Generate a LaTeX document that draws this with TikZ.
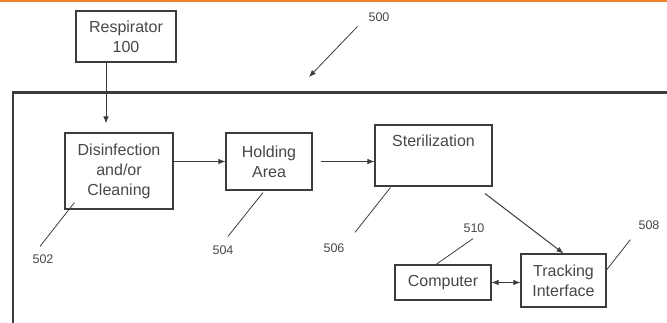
\documentclass[tikz,border=0pt]{standalone}
\usepackage{fontspec}
\setmainfont{Liberation Sans}
\usetikzlibrary{arrows.meta}
\definecolor{inkline}{HTML}{3C3C3C}
\definecolor{inktext}{HTML}{474747}
\definecolor{topbar}{HTML}{F0822E}
\newcommand{\boxfont}{\fontsize{16}{20}\selectfont}
\newcommand{\numfont}{\fontsize{12.5}{14}\selectfont}

\begin{document}
\begin{tikzpicture}[x=1pt,y=-1pt,
    blk/.style={draw=inkline, line width=1.1pt, text=inktext, align=center, inner sep=0pt, font=\boxfont},
    num/.style={text=inktext, inner sep=1pt, font=\numfont},
    arr/.style={draw=inkline, line width=1pt, -{Latex[length=7pt,width=5.5pt]}},
    dbl/.style={arr, {Latex[length=7pt,width=5.5pt]}-{Latex[length=7pt,width=5.5pt]}},
    lead/.style={draw=inkline, line width=0.8pt}]
    \useasboundingbox (0,0) rectangle (667,322);
    \clip (0,0) rectangle (667,322);
    \fill[topbar] (0,0) rectangle (667,2.2);
    \draw[inkline, line width=2.4pt] (13,92.5) rectangle (700,360);
    % boxes
    \node[blk, minimum width=100pt, minimum height=51pt] (resp)   at (126,36.5)  {Respirator\\100};
    \node[blk, minimum width=108pt, minimum height=76pt] (disinf) at (119,171)   {Disinfection\\and/or\\Cleaning};
    \node[blk, minimum width=86pt,  minimum height=57pt] (hold)   at (269,161.5) {Holding\\Area};
    \node[blk, minimum width=117pt, minimum height=61pt,
          label={[text=inktext, font=\boxfont, inner sep=0pt, anchor=north, yshift=-10pt]north:Sterilization}] (steril) at (433.5,155.5) {};
    \node[blk, minimum width=96pt,  minimum height=35pt] (comp)   at (443,282.5) {Computer};
    \node[blk, minimum width=85pt,  minimum height=53pt] (track)  at (563.5,280.5) {Tracking\\Interface};
    % reference numbers
    \node[num] (n500) at (379,17)  {500};
    \node[num] (n502) at (43,259)  {502};
    \node[num] (n504) at (223,250) {504};
    \node[num] (n506) at (334,248) {506};
    \node[num] (n510) at (474,228) {510};
    \node[num] (n508) at (649,225) {508};
    % flow
    \coordinate (drop) at ([xshift=-20pt]resp.south);
    \draw[arr, shorten >=9pt] (drop) -- (drop |- disinf.north);
    \draw[arr] (disinf.east |- hold.west) -- (hold.west);
    \draw[arr] ([xshift=8pt]hold.east) -- (hold.east -| steril.west);
    \draw[arr] ([shift={(51.5pt,-7pt)}]steril.south) -- (track.north);
    \draw[dbl] (comp.east) -- (comp.east -| track.west);
    % leaders
    \coordinate (p500) at (309,77);
    \draw[arr, line width=0.8pt] ([shift={(-10pt,-4pt)}]n500.south west) -- (p500);
    \draw[lead] ([shift={(10pt,7pt)}]disinf.south west) -- ([shift={(-3pt,7pt)}]n502.north);
    \draw[lead] ([shift={(-6pt,-2pt)}]hold.south) -- ([shift={(5pt,8pt)}]n504.north);
    \draw[lead] ([shift={(16pt,-1pt)}]steril.south west) -- ([shift={(21pt,10pt)}]n506.north);
    \draw[lead] ([xshift=-7pt]comp.north) -- ([shift={(-1pt,-5pt)}]n510.south);
    \draw[lead] ([yshift=10.5pt]track.east) -- ([shift={(-7pt,-9pt)}]n508.south west);
\end{tikzpicture}
\end{document}
